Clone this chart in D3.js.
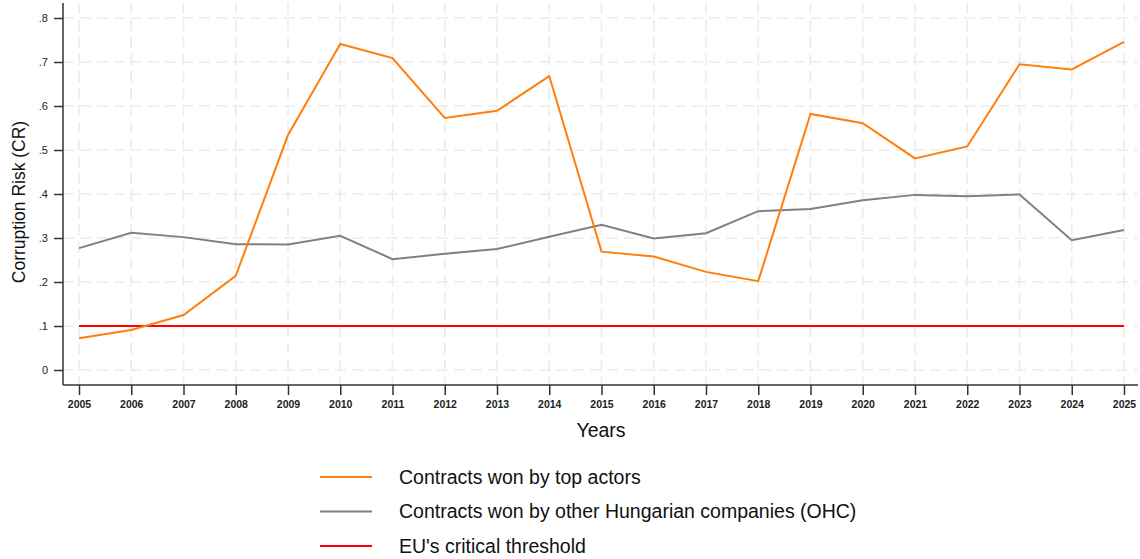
<!DOCTYPE html>
<html>
<head>
<meta charset="utf-8">
<script src="https://cdn.jsdelivr.net/npm/d3@7"></script>
<style>
  body { margin: 0; background: #fff; font-family: "Liberation Sans", Arial, sans-serif; }
  .grid line { stroke: #ebebeb; stroke-width: 1.6; stroke-dasharray: 11,6; }
  .axis path, .axis line { stroke: #333; stroke-width: 1.5; }
  .axis text { fill: #222; font-size: 11px; font-family: "Liberation Sans", Arial, sans-serif; }
</style>
</head>
<body>
<script>
// data
let years = d3.range(2005, 2026);
let topActors = [0.072, 0.091, 0.125, 0.214, 0.534, 0.741, 0.709, 0.573, 0.589, 0.668,
                 0.269, 0.258, 0.223, 0.202, 0.582, 0.561, 0.481, 0.508, 0.695, 0.683, 0.746];
let otherCompanies = [0.277, 0.312, 0.302, 0.286, 0.285, 0.305, 0.252, 0.264, 0.275, 0.303,
                      0.330, 0.299, 0.311, 0.361, 0.366, 0.386, 0.398, 0.395, 0.399, 0.295, 0.318];
let threshold = 0.1;
let yTicks = [0, 0.1, 0.2, 0.3, 0.4, 0.5, 0.6, 0.7, 0.8];

let legendItems = [
    {label: "Contracts won by top actors", color: "#ff7f0e"},
    {label: "Contracts won by other Hungarian companies (OHC)", color: "#808080"},
    {label: "EU's critical threshold", color: "#ff0000"}
];

let width = 1140, height = 559;
let plot = {left: 63, right: 1138, top: 3, bottom: 385};

let svg = d3.select("body")
    .append("svg")
    .attr("width", width)
    .attr("height", height);

let x = d3.scaleLinear()
    .domain([2005, 2025])
    .range([79, 1124]);

let y = d3.scaleLinear()
    .domain([0, 0.8])
    .range([370, 18]);

// grid
let grid = svg.append("g").attr("class", "grid");
grid.selectAll(".h")
    .data(yTicks)
    .enter().append("line")
    .attr("x1", plot.left).attr("x2", plot.right)
    .attr("y1", d => y(d)).attr("y2", d => y(d));
grid.selectAll(".v")
    .data(years)
    .enter().append("line")
    .attr("x1", d => x(d)).attr("x2", d => x(d))
    .attr("y1", plot.top).attr("y2", plot.bottom);

// axes
let fmt = d => d === 0 ? "0" : d3.format(".1f")(d).replace(/^0/, "");

svg.append("g")
    .attr("class", "axis")
    .attr("transform", `translate(${plot.left},0)`)
    .call(d3.axisLeft(y).tickValues(yTicks).tickFormat(fmt).tickSize(9).tickSizeOuter(0).tickPadding(6))
    .call(g => g.select(".domain").attr("d", `M0,${plot.top}V${plot.bottom}`));

svg.append("g")
    .attr("class", "axis")
    .attr("transform", `translate(0,${plot.bottom})`)
    .call(d3.axisBottom(x).tickValues(years).tickFormat(d3.format("d")).tickSize(10).tickSizeOuter(0).tickPadding(6))
    .call(g => g.select(".domain").attr("d", `M${plot.left},0H${plot.right}`))
    .selectAll("text").style("font-weight", "bold").style("font-size", "10.5px");

// axis titles
svg.append("text")
    .attr("transform", "translate(25,202) rotate(-90)")
    .attr("text-anchor", "middle")
    .style("font-size", "17.5px")
    .style("fill", "#111")
    .text("Corruption Risk (CR)");

svg.append("text")
    .attr("x", 601)
    .attr("y", 437)
    .attr("text-anchor", "middle")
    .style("font-size", "19.5px")
    .style("fill", "#111")
    .text("Years");

// lines
let lineMaker = d3.line()
    .x((d, i) => x(years[i]))
    .y(d => y(d));

svg.append("line")
    .attr("x1", x(2005)).attr("x2", x(2025))
    .attr("y1", y(threshold)).attr("y2", y(threshold))
    .style("stroke", legendItems[2].color)
    .style("stroke-width", 2);

svg.append("path")
    .datum(otherCompanies)
    .attr("d", lineMaker)
    .style("fill", "none")
    .style("stroke", legendItems[1].color)
    .style("stroke-width", 2);

svg.append("path")
    .datum(topActors)
    .attr("d", lineMaker)
    .style("fill", "none")
    .style("stroke", legendItems[0].color)
    .style("stroke-width", 2);

// legend
let legend = svg.selectAll(".legend")
    .data(legendItems)
    .enter().append("g")
    .attr("transform", (d, i) => `translate(0, ${477 + i * 34.5})`);

legend.append("line")
    .attr("x1", 320).attr("x2", 372)
    .style("stroke", d => d.color)
    .style("stroke-width", 2);

legend.append("text")
    .attr("x", 399)
    .attr("dy", "0.35em")
    .style("font-size", "19.5px")
    .style("fill", "#111")
    .text(d => d.label);
</script>
</body>
</html>
